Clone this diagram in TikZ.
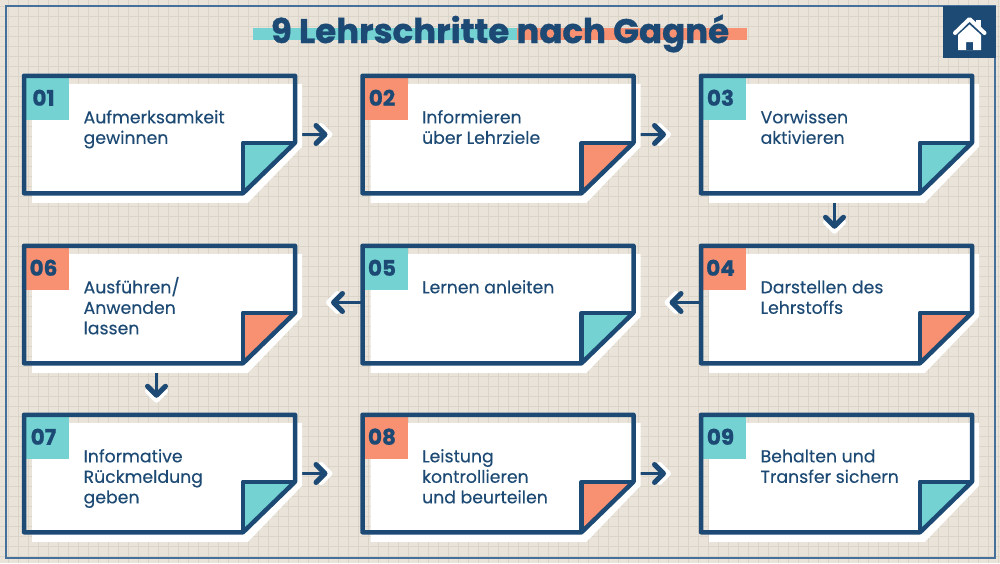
\documentclass[tikz,border=0pt]{standalone}
\usepackage{fontspec}
\setmainfont{Poppins}[FakeBold=0.25,BoldFeatures={FakeBold=1.0}]
\usetikzlibrary{arrows.meta,positioning}

\definecolor{navy}{HTML}{1D4A74}
\definecolor{framecol}{HTML}{44709A}
\definecolor{teal}{HTML}{74D3D2}
\definecolor{salmon}{HTML}{F79172}
\definecolor{paper}{HTML}{E9E3D9}
\definecolor{gridcol}{HTML}{DBD4C8}

\tikzset{
	card/.style={rectangle,minimum width=271pt,minimum height=117.5pt,inner sep=0pt,outer sep=0pt},
	numbox/.style={rectangle,minimum width=45pt,minimum height=44pt,inner sep=0pt,outer sep=0pt},
	numtext/.style={text=navy,font=\bfseries\fontsize{21.5}{24}\selectfont,inner sep=0pt},
	cardtext/.style={text=navy,align=left,inner sep=0pt,font=\fontsize{17.3}{20.5}\selectfont},
	flow/.style={navy,line width=3pt,shorten >=#1,-{Straight Barb[length=9pt,width=18pt,round,line width=5pt]},
		preaction={draw=white,shorten >=#1-5pt,-{Straight Barb[length=9pt,width=18pt,round,line width=5pt]}}},
}

% one sheet: node name, colour, number, text
\newcommand{\sheet}[4]{
	\begin{scope}[shift={(#1.north west)}]
		\fill[white] (8,8) -- (278,8) -- (278,71) -- (224,127) -- (8,127) -- cycle;
		\fill[#2] (219,67) -- (271,67) -- (219,117.5) -- cycle;
	\end{scope}
	\node[numbox,fill=#2] (#1num) at (#1.north west) [anchor=north west] {};
	\node[numtext] (#1label) at (#1num.center) [xshift=-3pt] {#3};
	\node[cardtext] (#1text) at ([shift={(59.4,33)}]#1.north west) [anchor=north west] {\strut #4};
	\begin{scope}[shift={(#1.north west)}]
		\draw[navy,line width=4.5pt,line join=round] (0,0) -- (271,0) -- (271,67) -- (219,117.5) -- (0,117.5) -- cycle;
		\draw[navy,line width=4.5pt,line join=round] (219,117.5) -- (219,67) -- (271,67);
	\end{scope}
}

\begin{document}
\begin{tikzpicture}[x=1pt,y=-1pt]

	\useasboundingbox (0,0) rectangle (1000,563);
	\fill[paper] (0,0) rectangle (1000,563);
	\foreach \gx in {8,18,...,998} \draw[gridcol,line width=0.8pt] (\gx,0) -- (\gx,563);
	\foreach \gy in {6,16,...,556} \draw[gridcol,line width=0.8pt] (0,\gy) -- (1000,\gy);

	\draw[framecol,line width=2pt] (6,6) rectangle (995,558);

	% title
	\fill[teal]   (253,28) rectangle (517,40);
	\fill[salmon] (517,28) rectangle (747,40);
	\node[text=navy,font=\bfseries\fontsize{34}{38}\selectfont,inner sep=0pt] (title) at (500,43) [anchor=base] {9 Lehrschritte nach Gagné};

	% home button
	\node[rectangle,fill=navy,minimum width=53pt,minimum height=52pt,inner sep=0pt] (home) at (969.5,32) {};
	\fill[white] (976,20) rectangle (981,27);
	\fill[white,even odd rule] (958,35) -- (969.5,24.5) -- (981,35) -- (981,50) -- (958,50) -- cycle
		(966,50) rectangle (973,42);
	\draw[white,line width=4pt,line cap=round,line join=round] (955,33) -- (969.5,19) -- (984.5,33);

	\node[card]                 (card01) at (159.5,134.5) {};
	\node[card,right=67.5pt of card01] (card02) {};
	\node[card,right=67.5pt of card02] (card03) {};
	\node[card,below=52.5pt of card03] (card04) {};
	\node[card,left=67.5pt of card04]  (card05) {};
	\node[card,left=67.5pt of card05]  (card06) {};
	\node[card,below=51.5pt of card06] (card07) {};
	\node[card,right=67.5pt of card07] (card08) {};
	\node[card,right=67.5pt of card08] (card09) {};

	\draw[flow=35pt] (card01) -- (card02);
	\draw[flow=35pt] (card02) -- (card03);
	\draw[flow=17pt] ([xshift=-2pt]card03.south) -- ([xshift=-2pt]card04.north);
	\draw[flow=36pt] ([yshift=2pt]card04.west) -- ([yshift=2pt]card05.east);
	\draw[flow=36pt] ([yshift=2pt]card05.west) -- ([yshift=2pt]card06.east);
	\draw[flow=17pt] ([xshift=-3pt]card06.south) -- ([xshift=-3pt]card07.north);
	\draw[flow=35pt] (card07) -- (card08);
	\draw[flow=35pt] (card08) -- (card09);

	\sheet{card01}{teal}{01}{Aufmerksamkeit\\gewinnen}
	\sheet{card02}{salmon}{02}{Informieren\\über Lehrziele}
	\sheet{card03}{teal}{03}{Vorwissen\\aktivieren}
	\sheet{card04}{salmon}{04}{Darstellen des\\Lehrstoffs}
	\sheet{card05}{teal}{05}{Lernen anleiten}
	\sheet{card06}{salmon}{06}{Ausführen\smash{/}\\Anwenden\\lassen}
	\sheet{card07}{teal}{07}{Informative\\Rückmeldung\\geben}
	\sheet{card08}{salmon}{08}{Leistung\\kontrollieren\\und beurteilen}
	\sheet{card09}{teal}{09}{Behalten und\\Transfer sichern}

\end{tikzpicture}
\end{document}
